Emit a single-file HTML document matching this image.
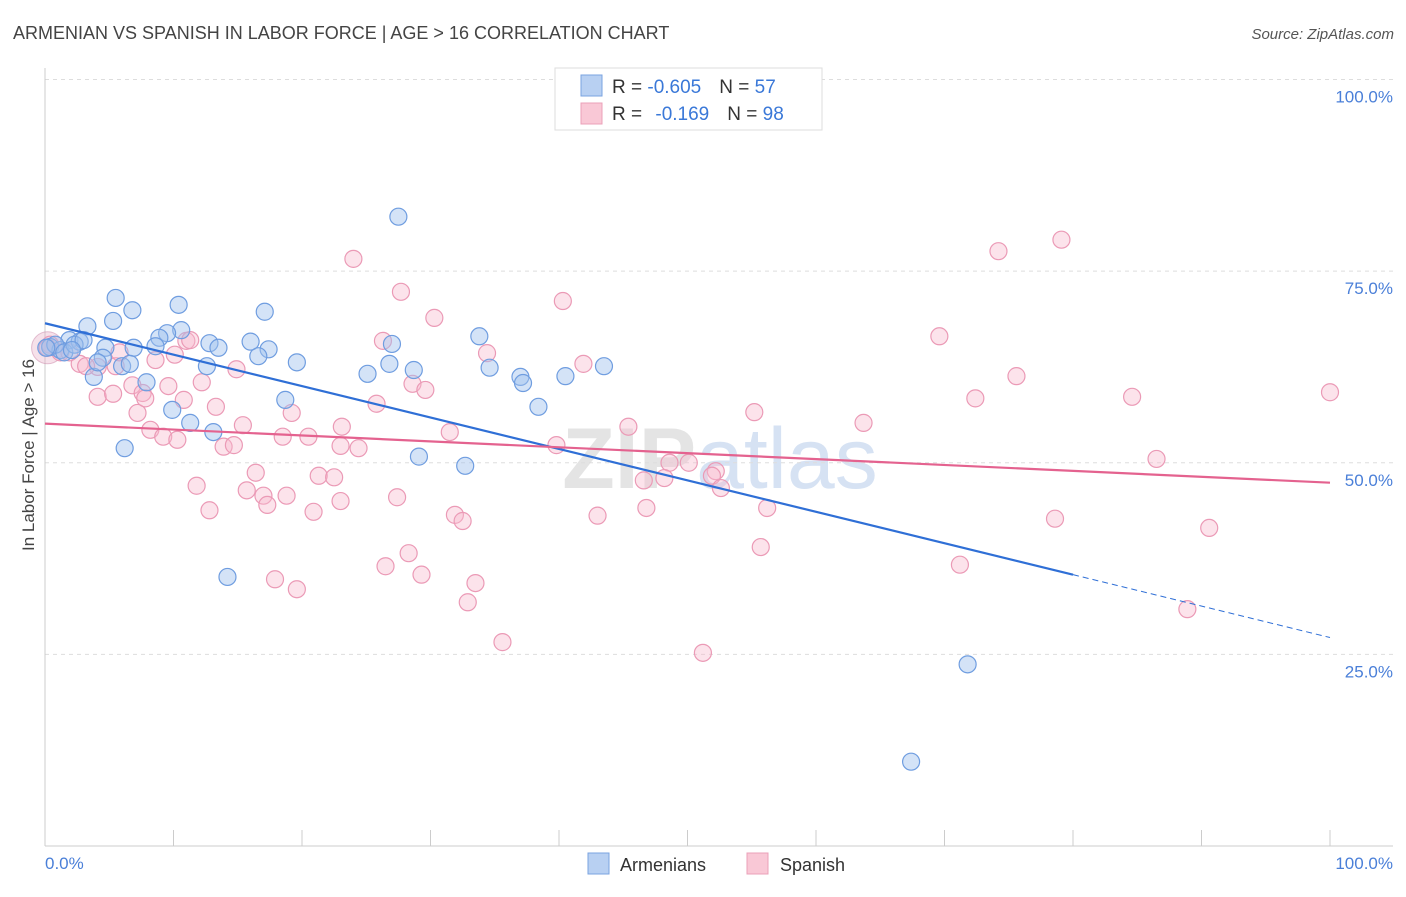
<!DOCTYPE html>
<html><head><meta charset="utf-8"><style>
body{margin:0;background:#fff;font-family:"Liberation Sans",sans-serif;}
svg text{font-family:"Liberation Sans",sans-serif;}
</style></head><body>
<svg id="chart" width="1406" height="892" xmlns="http://www.w3.org/2000/svg">
<text x="13" y="39" font-size="18" fill="#444">ARMENIAN VS SPANISH IN LABOR FORCE | AGE &gt; 16 CORRELATION CHART</text>
<text x="1394" y="39" font-size="15" fill="#555" text-anchor="end" font-style="italic">Source: ZipAtlas.com</text>
<text x="720" y="488" font-size="86" fill="#e4e4e4" text-anchor="middle" font-weight="bold">ZIP<tspan fill="#d6e2f3" font-weight="normal">atlas</tspan></text>
<g id="grid"></g>
<g id="axes"></g>
<g id="marks"></g>
<text transform="translate(34,455) rotate(-90)" font-size="17" fill="#444" text-anchor="middle">In Labor Force | Age &gt; 16</text>
<text x="45" y="869" font-size="17" fill="#4a7fd8">0.0%</text>
<text x="1393" y="869" font-size="17" fill="#4a7fd8" text-anchor="end">100.0%</text>
<g>
<rect x="555" y="68" width="267" height="62" fill="#fff" stroke="#ddd"/>
<rect x="581" y="75" width="21" height="21" fill="#b8d0f2" stroke="#7aa3e0"/>
<rect x="581" y="103" width="21" height="21" fill="#f9c8d6" stroke="#eba0b8"/>
<text x="612" y="93" font-size="19" fill="#333">R = <tspan fill="#3a78d8">-0.605</tspan><tspan dx="18">N = </tspan><tspan fill="#3a78d8">57</tspan></text>
<text x="612" y="120" font-size="19" fill="#333">R = <tspan dx="8" fill="#3a78d8">-0.169</tspan><tspan dx="18">N = </tspan><tspan fill="#3a78d8">98</tspan></text>
</g>
<g>
<rect x="588" y="853" width="21" height="21" fill="#b8d0f2" stroke="#7aa3e0"/>
<text x="620" y="871" font-size="18" fill="#333">Armenians</text>
<rect x="747" y="853" width="21" height="21" fill="#f9c8d6" stroke="#eba0b8"/>
<text x="780" y="871" font-size="18" fill="#333">Spanish</text>
</g>
</svg>
<script>
const yTicks=[25,50,75,100];
const yTickLabels=["25.0%","50.0%","75.0%","100.0%"];
const armX=[27.5,5.5,10.4,17.1,6.8,5.3,3.3,10.6,9.5,8.9,16.0,27.0,33.8,1.9,2.7,4.7,6.9,8.6,12.8,13.5,17.4,16.6,19.6,6.0,4.5,12.6,26.8,28.7,34.6,25.1,37.0,40.5,43.5,37.2,3.8,7.9,18.7,38.4,9.9,11.3,13.1,6.2,29.1,32.7,14.2,71.8,67.4,0.4,1.2,0.8,1.5,2.3,0.1,3.0,4.1,6.6,2.1];
const armY=[82.1,71.5,70.6,69.7,69.9,68.5,67.8,67.3,66.9,66.3,65.8,65.5,66.5,66.0,65.8,65.0,65.0,65.2,65.6,65.0,64.8,63.9,63.1,62.6,63.7,62.6,62.9,62.1,62.4,61.6,61.2,61.3,62.6,60.4,61.2,60.5,58.2,57.3,56.9,55.2,54.0,51.9,50.8,49.6,35.1,23.7,11.0,65.1,64.7,65.4,64.4,65.4,65.0,66.0,63.1,62.9,64.7];
const spaX=[24.0,79.1,74.2,27.7,40.3,30.3,69.6,11.0,26.3,34.4,41.9,4.1,14.9,2.7,5.5,75.6,6.8,12.2,9.6,28.6,29.6,4.1,7.6,5.3,72.4,84.6,100,19.2,25.8,10.8,13.3,7.2,55.2,63.7,15.4,8.2,9.2,10.3,18.5,20.5,23.1,31.5,45.4,23.0,13.9,14.7,24.4,39.8,48.6,50.1,86.5,52.2,51.9,46.6,48.2,21.3,22.5,16.4,11.8,15.7,17.0,18.8,27.4,23.0,17.3,12.8,20.9,31.9,32.5,43.0,46.8,56.2,52.6,78.6,90.6,55.7,28.3,26.5,71.2,29.3,17.9,19.6,33.5,32.9,88.9,35.6,51.2,0.4,1.2,1.9,3.2,5.8,8.6,10.1,11.3,7.8,0.2];
const spaY=[76.6,79.1,77.6,72.3,71.1,68.9,66.5,65.9,65.9,64.3,62.9,62.5,62.2,62.9,62.6,61.3,60.1,60.5,60.0,60.3,59.5,58.6,59.1,59.0,58.4,58.6,59.2,56.5,57.7,58.2,57.3,56.5,56.6,55.2,54.9,54.3,53.4,53.0,53.4,53.4,54.7,54.0,54.7,52.2,52.1,52.3,51.9,52.3,50.0,50.0,50.5,48.9,48.3,47.7,48.0,48.3,48.1,48.7,47.0,46.4,45.7,45.7,45.5,45.0,44.5,43.8,43.6,43.2,42.4,43.1,44.1,44.1,46.7,42.7,41.5,39.0,38.2,36.5,36.7,35.4,34.8,33.5,34.3,31.8,30.9,26.6,25.2,65.4,64.4,64.4,62.6,64.4,63.4,64.1,66.0,58.4,65.0];
const armTrend=[68.2,-0.41];
const spaTrend=[55.1,-0.077];
const NS="http://www.w3.org/2000/svg";
const X=v=>45+v*12.85, Y=v=>846-v*7.665;
function mk(tag,attrs,parent){const e=document.createElementNS(NS,tag);for(const k in attrs)e.setAttribute(k,attrs[k]);parent.appendChild(e);return e;}
const grid=document.getElementById('grid'),axes=document.getElementById('axes'),marks=document.getElementById('marks');
yTicks.forEach((t,i)=>{
 const l=mk('line',{x1:45,x2:1393,y1:Y(t),y2:Y(t),stroke:'#ddd','stroke-dasharray':'4,4'},grid);
 
 
 const tx=mk('text',{x:1393,y:Y(t)+23,'font-size':17,fill:'#4a7fd8','text-anchor':'end'},grid);
 tx.textContent=yTickLabels[i];
 
 
});
const ax=mk('line',{x1:45,x2:1393,y1:846,y2:846,stroke:'#ccc'},axes);


const ay=mk('line',{x1:45,x2:45,y1:68,y2:846,stroke:'#ccc'},axes);


for(let i=0;i<=10;i++){
 const t=mk('line',{x1:X(i*10),x2:X(i*10),y1:830,y2:846,stroke:'#ccc'},axes);
 
 
}
const big=mk('circle',{cx:X(0.2),cy:Y(65),r:16,fill:'rgba(230,170,195,0.35)',stroke:'rgba(210,150,180,0.6)'},marks);


spaX.forEach((v,i)=>{
 const c=mk('circle',{cx:X(v),cy:Y(spaY[i]),r:8.5,fill:'rgba(247,185,205,0.4)',stroke:'#eb9ab6','stroke-width':1.2},marks);
 
 
});
armX.forEach((v,i)=>{
 const c=mk('circle',{cx:X(v),cy:Y(armY[i]),r:8.5,fill:'rgba(160,192,238,0.45)',stroke:'#6f9de0','stroke-width':1.2},marks);
 
 
});
const at=v=>armTrend[0]+armTrend[1]*v, st=v=>spaTrend[0]+spaTrend[1]*v;
const l1=mk('line',{x1:X(0),y1:Y(at(0)),x2:X(80),y2:Y(at(80)),stroke:'#2f6fd6','stroke-width':2.2},marks);


const l2=mk('line',{x1:X(80),y1:Y(at(80)),x2:X(100),y2:Y(at(100)),stroke:'#2f6fd6','stroke-width':1,'stroke-dasharray':'6,4'},marks);


const l3=mk('line',{x1:X(0),y1:Y(st(0)),x2:X(100),y2:Y(st(100)),stroke:'#e4628f','stroke-width':2.2},marks);


</script>
</body></html>
